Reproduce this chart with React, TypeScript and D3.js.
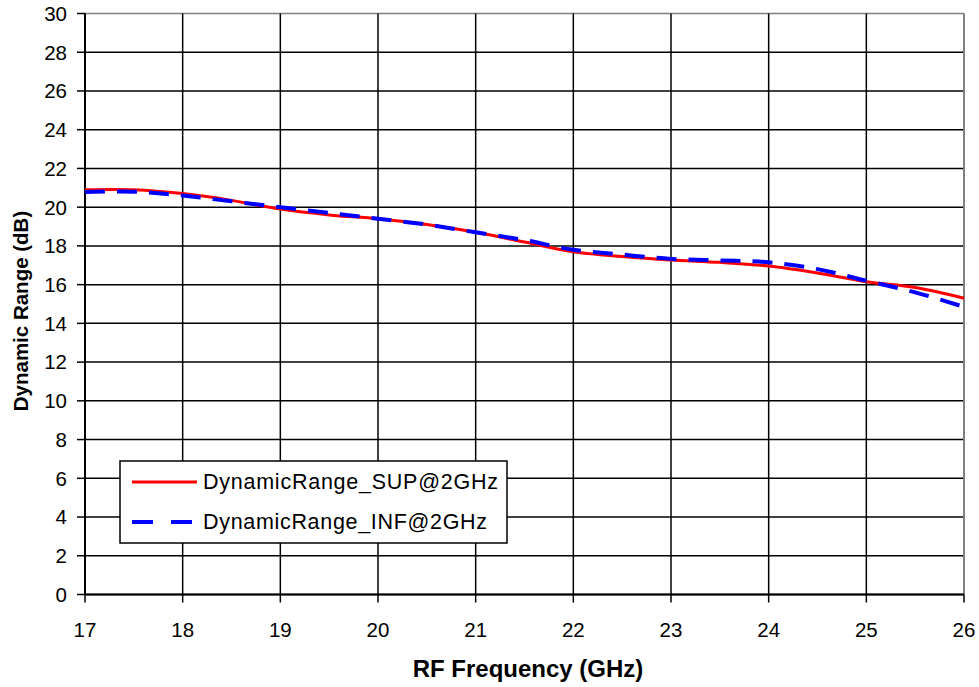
import React from "react";
import * as d3 from "d3";

const freqs = [17, 17.5, 18, 18.5, 19, 19.5, 20, 20.5, 21, 21.5, 22, 22.5, 23, 23.5, 24, 24.5, 25, 25.5, 26];
const supValues = [20.9, 20.9, 20.7, 20.35, 19.9, 19.6, 19.4, 19.1, 18.7, 18.2, 17.7, 17.45, 17.27, 17.15, 16.96, 16.6, 16.15, 15.85, 15.3];
const infValues = [20.78, 20.8, 20.6, 20.3, 20.0, 19.7, 19.4, 19.1, 18.7, 18.3, 17.8, 17.55, 17.33, 17.25, 17.15, 16.8, 16.2, 15.6, 14.85];
const xTicks = [17, 18, 19, 20, 21, 22, 23, 24, 25, 26];
const yTicks = [0, 2, 4, 6, 8, 10, 12, 14, 16, 18, 20, 22, 24, 26, 28, 30];
const seriesNames = ["DynamicRange_SUP@2GHz", "DynamicRange_INF@2GHz"];

const W = 979;
const H = 687;
const left = 85;
const right = 964;
const top = 13.5;
const bottom = 594.5;

export default function App() {
  const x = d3.scaleLinear().domain([17, 26]).range([left, right]);
  const y = d3.scaleLinear().domain([0, 30]).range([bottom, top]);
  const line = d3
    .line<number>()
    .x((_, i) => x(freqs[i]))
    .y((d) => y(d))
    .curve(d3.curveCatmullRom.alpha(0.5));
  const font = "Liberation Sans, Arial, sans-serif";
  return (
    <svg
      width={W}
      height={H}
      style={{ position: "absolute", left: 0, top: 0, background: "#fff" }}
      fontFamily={font}
    >
      <rect x={0} y={0} width={W} height={H} fill="#fff" />
      {/* gridlines */}
      {yTicks.map((t) => (
        <line key={"gy" + t} x1={left} x2={right} y1={y(t)} y2={y(t)} stroke={t === 30 ? "#808080" : "#000"} strokeWidth={1.5} />
      ))}
      {xTicks.map((t) => (
        <line key={"gx" + t} x1={x(t)} x2={x(t)} y1={top} y2={bottom} stroke={t === 26 ? "#808080" : "#000"} strokeWidth={t === 26 ? 2 : 1.5} />
      ))}
      {/* axes */}
      <line x1={left} x2={left} y1={top} y2={bottom} stroke="#000" strokeWidth={2} />
      <line x1={left} x2={right} y1={bottom} y2={bottom} stroke="#000" strokeWidth={2} />
      {yTicks.map((t) => (
        <line key={"ty" + t} x1={left - 8} x2={left} y1={y(t)} y2={y(t)} stroke="#000" strokeWidth={1.5} />
      ))}
      {xTicks.map((t) => (
        <line key={"tx" + t} x1={x(t)} x2={x(t)} y1={bottom} y2={bottom + 8} stroke="#000" strokeWidth={1.5} />
      ))}
      {yTicks.map((t) => (
        <text key={"ly" + t} x={67} y={y(t)} dy="0.36em" textAnchor="end" fontSize={20.5} fill="#000">
          {t}
        </text>
      ))}
      {xTicks.map((t) => (
        <text key={"lx" + t} x={x(t)} y={637} textAnchor="middle" fontSize={20.5} fill="#000">
          {t}
        </text>
      ))}
      {/* series */}
      <path d={line(supValues) || ""} fill="none" stroke="#ff0000" strokeWidth={3} />
      <path d={line(infValues) || ""} fill="none" stroke="#0000ff" strokeWidth={4} strokeDasharray="20,12" />
      {/* axis titles */}
      <text x={528} y={677} textAnchor="middle" fontSize={24} fontWeight="bold" fill="#000">
        RF Frequency (GHz)
      </text>
      <text
        transform={`translate(28,311) rotate(-90)`}
        textAnchor="middle"
        fontSize={20.5}
        fontWeight="bold"
        fill="#000"
      >
        Dynamic Range (dB)
      </text>
      {/* legend */}
      <rect x={120} y={461} width={387} height={82} fill="#fff" stroke="#000" strokeWidth={1.5} />
      <line x1={132} x2={197} y1={482} y2={482} stroke="#ff0000" strokeWidth={3} />
      <line x1={132} x2={197} y1={522} y2={522} stroke="#0000ff" strokeWidth={4} strokeDasharray="21,18" />
      <text x={203} y={489} fontSize={21.5} fill="#000" textLength={295} lengthAdjust="spacing">
        {seriesNames[0]}
      </text>
      <text x={203} y={529} fontSize={21.5} fill="#000" textLength={284} lengthAdjust="spacing">
        {seriesNames[1]}
      </text>
    </svg>
  );
}
